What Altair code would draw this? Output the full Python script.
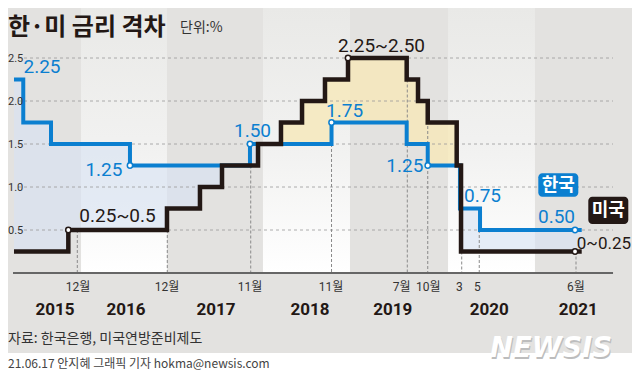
import altair as alt
import pandas as pd

# ---- data (timeline position in months from Jan 2015) ----
korea_x = [3.42, 4.64, 8.29, 18.68, 34.47, 45.2, 55.09, 57.86, 62.1, 64.74, 78.12]
korea_rate = [2.25, 1.75, 1.5, 1.25, 1.5, 1.75, 1.5, 1.25, 0.75, 0.5, 0.5]
us_x = [3.42, 10.57, 23.55, 27.89, 30.79, 35.53, 38.55, 41.32, 44.34, 47.37,
        55.09, 56.58, 57.86, 61.67, 62.24, 78.12]
us_rate = [0.25, 0.5, 0.75, 1.0, 1.25, 1.5, 1.75, 2.0, 2.25, 2.5,
           2.25, 2.0, 1.75, 1.25, 0.25, 0.25]

korea_dot_x = [18.68, 34.47, 45.2, 57.86, 77.24]
korea_dot_rate = [1.25, 1.5, 1.75, 1.25, 0.5]
us_dot_x = [10.57, 47.37, 77.24]
us_dot_rate = [0.5, 2.5, 0.25]

tick_x = [11.75, 23.59, 34.57, 45.2, 55.17, 57.86, 62.33, 64.64, 77.37]
tick_top = [0.5, 0.5, 1.25, 1.5, 2.25, 2.0, 0.25, 0.5, 0.25]
month_labels = ["12월", "12월", "11월", "11월", "7월", "10월", "3", "5", "6월"]
month_label_x = [11.84, 23.55, 34.47, 45.13, 54.43, 57.93, 62.01, 64.38, 77.37]

years = ["2015", "2016", "2017", "2018", "2019", "2020", "2021"]
year_x = [8.82, 18.16, 30.0, 42.37, 53.25, 65.96, 77.67]

band_start = [12.24, 36.18, 60.53]
band_end = [23.55, 47.63, 71.97]
axis_start, axis_end = 3.29, 82.24

y_ticks = [0.5, 1.0, 1.5, 2.0, 2.5]
y_tick_labels = ["0.5", "1.0", "1.5", "2.0", "2.5"]

# ---- styles ----
BLUE = "#0b7fd0"
BLACK = "#231815"
NUM = "Roboto, Noto Sans CJK KR, sans-serif"
KR = "Noto Sans CJK KR, sans-serif"

X0, X1 = 20 / 7.6, 644 / 7.6
Y0, Y1 = (265 - 362) / 86, 265 / 86
XS = alt.Scale(domain=[X0, X1], nice=False, zero=False)
YS = alt.Scale(domain=[Y0, Y1], nice=False, zero=False)


def X(field=None, datum=None):
    if datum is not None:
        return alt.X(datum=datum, scale=XS, axis=None)
    return alt.X(field, type="quantitative", scale=XS, axis=None)


def Y(field=None, datum=None):
    if datum is not None:
        return alt.Y(datum=datum, scale=YS, axis=None)
    return alt.Y(field, type="quantitative", scale=YS, axis=None)


one = pd.DataFrame({"a": [0]})


def step_val(xs, ys, x):
    idx = max(i for i in range(len(xs)) if xs[i] <= x + 1e-9)
    return ys[idx]


merged_x = sorted(set(korea_x) | set(us_x))
merged = pd.DataFrame({"x": merged_x})
merged["k"] = [step_val(korea_x, korea_rate, x) for x in merged_x]
merged["u"] = [step_val(us_x, us_rate, x) for x in merged_x]
merged["top"] = merged[["k", "u"]].max(axis=1)

korea = pd.DataFrame({"x": korea_x, "rate": korea_rate})
us = pd.DataFrame({"x": us_x, "rate": us_rate})
bands = pd.DataFrame({"x": band_start, "x2": band_end, "top": [Y1] * 3, "bottom": [0] * 3})
ticks = pd.DataFrame({"x": tick_x, "top": tick_top, "bottom": [0] * len(tick_x)})
months = pd.DataFrame({"x": month_label_x, "t": month_labels})
yrs = pd.DataFrame({"x": year_x, "t": years})
grid = pd.DataFrame({"v": y_ticks, "t": y_tick_labels})
kdots = pd.DataFrame({"x": korea_dot_x, "rate": korea_dot_rate})
udots = pd.DataFrame({"x": us_dot_x, "rate": us_dot_rate})
axis_df = pd.DataFrame({"x": [axis_start], "x2": [axis_end], "v": [0]})

grad = alt.Gradient(
    gradient="linear",
    stops=[alt.GradientStop(color="#e9e9e7", offset=0),
           alt.GradientStop(color="#f2f2f1", offset=0.55),
           alt.GradientStop(color="#ffffff", offset=1)],
    x1=0, x2=0, y1=0, y2=1,
)

layers = []
layers.append(alt.Chart(bands).mark_rect(fill=grad).encode(
    x=X("x"), x2="x2", y=Y("top"), y2="bottom"))
layers.append(alt.Chart(one).mark_rect(fill="#ffffff").encode(
    x=alt.value(0), x2=alt.value(624), y=alt.value(345), y2=alt.value(362)))
layers.append(alt.Chart(merged).mark_area(interpolate="step-after", color="#d7e2f2", opacity=0.63).encode(
    x=X("x"), y=Y("top"), y2="u"))
layers.append(alt.Chart(merged).mark_area(interpolate="step-after", color="#f6e8b9", opacity=0.8).encode(
    x=X("x"), y=Y("top"), y2="k"))
layers.append(alt.Chart(grid).mark_rule(color="#9a9a9a", strokeDash=[3, 3], strokeWidth=0.8).encode(
    y=Y("v"), x=alt.value(10), x2=alt.value(605)))
layers.append(alt.Chart(ticks).mark_rule(color="#8a8a8a", strokeDash=[3, 2], strokeWidth=1).encode(
    x=X("x"), y=Y("top"), y2="bottom"))
layers.append(alt.Chart(axis_df).mark_rule(color="#666666", strokeWidth=2).encode(
    x=X("x"), x2="x2", y=Y("v")))
layers.append(alt.Chart(korea).mark_line(interpolate="step-after", color=BLUE, strokeWidth=4,
                                         strokeJoin="miter", strokeCap="butt").encode(x=X("x"), y=Y("rate")))
layers.append(alt.Chart(us).mark_line(interpolate="step-after", color=BLACK, strokeWidth=4.5,
                                      strokeJoin="miter", strokeCap="butt").encode(x=X("x"), y=Y("rate")))
layers.append(alt.Chart(kdots).mark_point(shape="circle", filled=True, fill="white", stroke=BLUE,
                                          strokeWidth=1.5, size=28, opacity=1).encode(x=X("x"), y=Y("rate")))
layers.append(alt.Chart(udots).mark_point(shape="circle", filled=True, fill="white", stroke=BLACK,
                                          strokeWidth=1.5, size=28, opacity=1).encode(x=X("x"), y=Y("rate")))


def note(text, x, y, dx, dy, color, size=19, align="left"):
    return alt.Chart(one).mark_text(text=text, dx=dx, dy=dy, align=align, baseline="alphabetic",
                                    color=color, fontSize=size, font=NUM).encode(
        x=X(datum=x), y=Y(datum=y))


layers += [
    note("2.25", 3.42, 2.25, 9.5, -6.2, BLUE),
    note("1.25", 18.68, 1.25, -7.5, 10.5, BLUE, align="right"),
    note("0.25~0.5", 10.57, 0.5, 11.0, -8.3, BLACK),
    note("1.50", 34.47, 1.5, -16, -6.7, BLUE),
    note("2.25~2.50", 47.37, 2.5, -10, -6.3, BLACK),
    note("1.75", 45.2, 1.75, -5.5, -5.8, BLUE),
    note("1.25", 57.86, 1.25, -4.4, 6.2, BLUE, align="right"),
    note("0.75", 62.1, 0.75, 4, -6.8, BLUE),
    note("0.50", 77.24, 0.5, 0, -6.7, BLUE, align="right"),
    note("0~0.25", 77.24, 0.25, 56, -2.2, BLACK, size=17, align="right"),
]

layers.append(alt.Chart(grid).mark_text(align="left", baseline="middle", font=NUM, fontSize=11,
                                        color="#333333", dy=1).encode(
    y=Y("v"), x=alt.value(0), text="t"))
layers.append(alt.Chart(months).mark_text(align="center", baseline="middle", font=NUM, fontSize=12,
                                          color="#333333").encode(
    x=X("x"), y=alt.value(278.7), text="t"))
layers.append(alt.Chart(yrs).mark_text(align="center", baseline="middle", font=NUM, fontSize=17,
                                       fontWeight="bold", color=BLACK).encode(
    x=X("x"), y=alt.value(302), text="t"))

# title, unit, source, byline, logo
layers.append(alt.Chart(one).mark_text(text="한·미 금리 격차", align="left", baseline="alphabetic", font=KR,
                                       fontSize=24, fontWeight="bold", color=BLACK).encode(
    x=alt.value(0), y=alt.value(27)))
layers.append(alt.Chart(one).mark_text(text="단위:%", align="left", baseline="alphabetic", font=KR,
                                       fontSize=14, color="#333333").encode(
    x=alt.value(172), y=alt.value(24)))
layers.append(alt.Chart(one).mark_text(text="자료: 한국은행, 미국연방준비제도", align="left", baseline="alphabetic",
                                       font=KR, fontSize=14, color="#333333").encode(
    x=alt.value(0), y=alt.value(335)))
layers.append(alt.Chart(one).mark_text(text="21.06.17 안지혜 그래픽 기자 hokma@newsis.com", align="left",
                                       baseline="alphabetic", font=KR, fontSize=12, color="#444444").encode(
    x=alt.value(0), y=alt.value(360)))
layers.append(alt.Chart(one).mark_text(text="NEWSIS", align="left", baseline="alphabetic", font="DejaVu Sans",
                                       fontSize=27.5, fontWeight="bold", fontStyle="italic", color="#bdbdbd",
                                       dx=1, dy=1.5).encode(x=alt.value(482), y=alt.value(349)))
layers.append(alt.Chart(one).mark_text(text="NEWSIS", align="left", baseline="alphabetic", font="DejaVu Sans",
                                       fontSize=27.5, fontWeight="bold", fontStyle="italic", color="#ffffff").encode(
    x=alt.value(482), y=alt.value(349)))

# legend boxes
layers.append(alt.Chart(one).mark_rect(fill=BLUE, cornerRadius=4).encode(
    x=alt.value(530.3), x2=alt.value(570.3), y=alt.value(165.3), y2=alt.value(188.7)))
layers.append(alt.Chart(one).mark_text(text="한국", align="center", baseline="middle", font=KR, fontSize=18,
                                       fontWeight="bold", color="white").encode(
    x=alt.value(550.3), y=alt.value(177.5)))
layers.append(alt.Chart(one).mark_rect(fill=BLACK, cornerRadius=4).encode(
    x=alt.value(580.3), x2=alt.value(620.3), y=alt.value(188.7), y2=alt.value(216)))
layers.append(alt.Chart(one).mark_text(text="미국", align="center", baseline="middle", font=KR, fontSize=18,
                                       fontWeight="bold", color="white").encode(
    x=alt.value(600.3), y=alt.value(202.8)))

chart = alt.layer(*layers).properties(
    width=624, height=362,
    autosize=alt.AutoSizeParams(type="none"),
    padding=0,
    background="#e3e2e0",
).configure_view(stroke=None)

chart.save("out.html", embed_options={"renderer": "svg", "actions": False})
